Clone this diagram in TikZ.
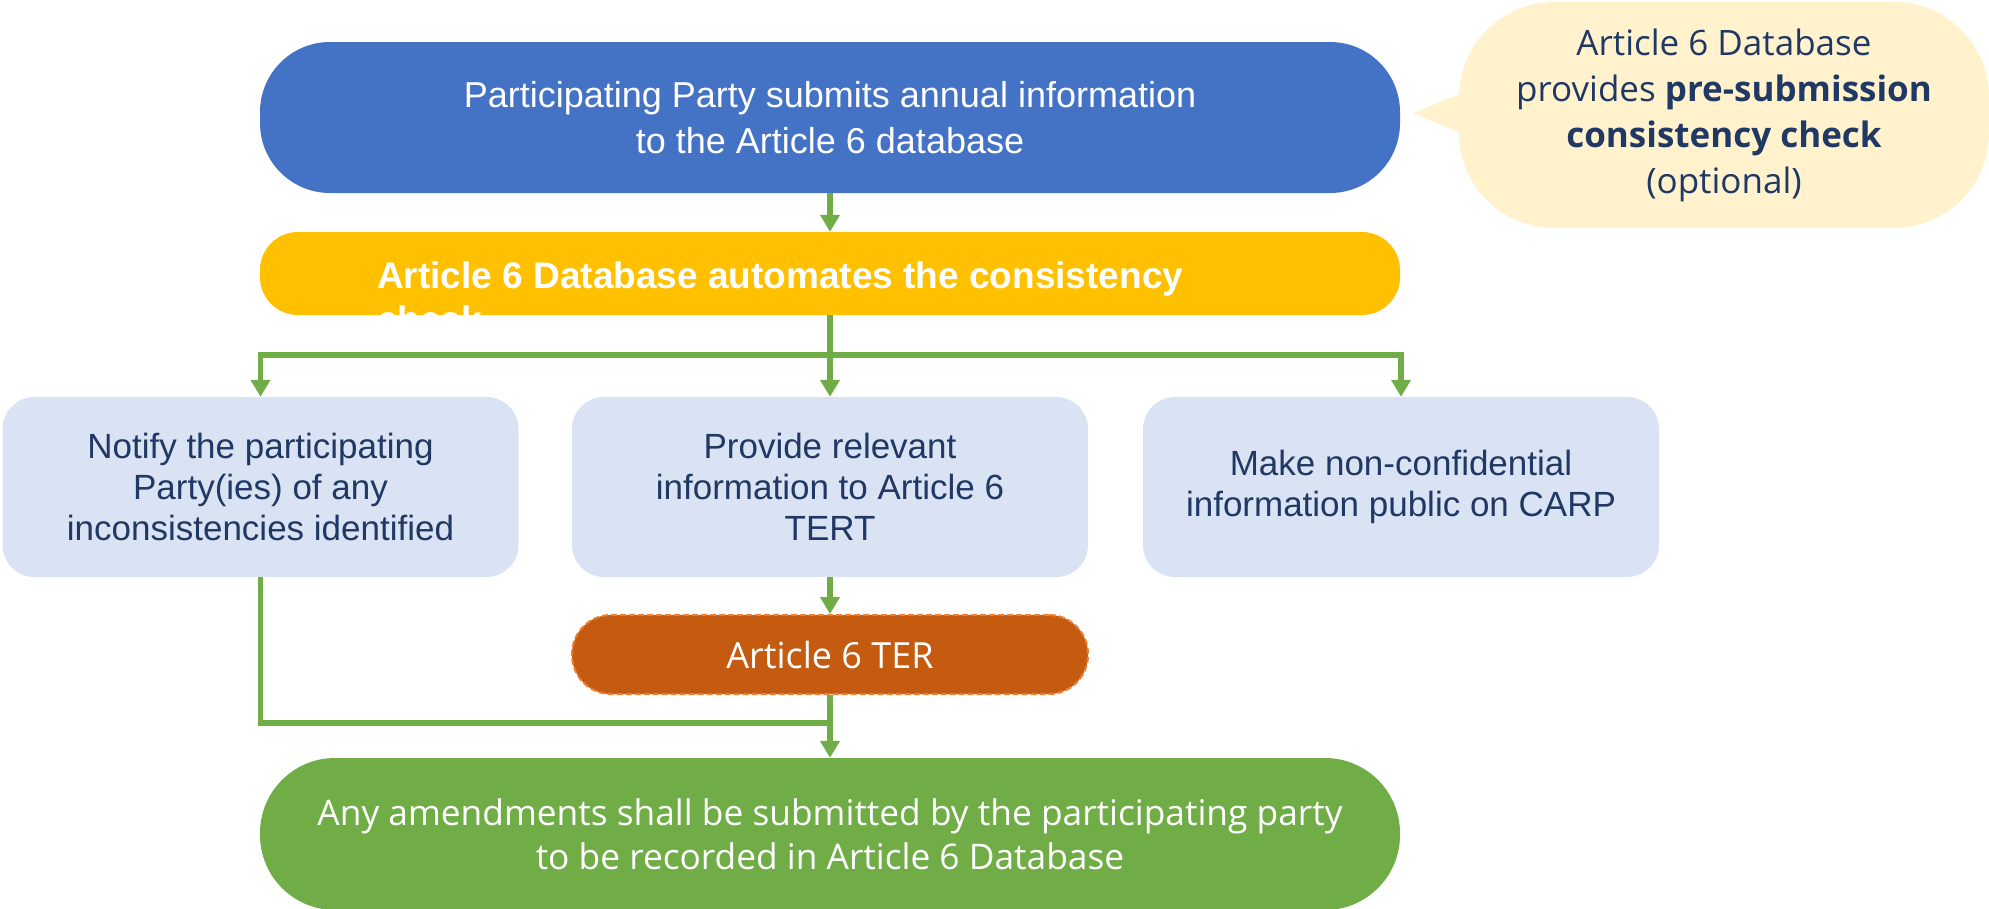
\documentclass[tikz,border=0pt]{standalone}
\usepackage{fontspec}
\setmainfont{Liberation Sans}
\newfontfamily\segoe{Open Sans}
\usetikzlibrary{arrows.meta}
\definecolor{cblue}{HTML}{4472C4}
\definecolor{cyellow}{HTML}{FFC000}
\definecolor{clight}{HTML}{DAE3F3}
\definecolor{cnavy}{HTML}{1F3864}
\definecolor{cgreen}{HTML}{70AD47}
\definecolor{corange}{HTML}{C55A11}
\definecolor{corangeb}{HTML}{ED7D31}
\definecolor{cbubble}{HTML}{FFF2CC}
\begin{document}
\begin{tikzpicture}[x=1pt,y=-1pt,
  widebox/.style={rectangle, inner sep=0pt, minimum width=1140, align=center},
  lbox/.style={rectangle, inner sep=0pt, minimum width=516, minimum height=180,
    rounded corners=32, fill=clight, text=cnavy, align=center,
    font=\fontsize{35}{41}\selectfont},
  conn/.style={draw=cgreen, line width=5.5},
  arr/.style={-{Triangle[width=19pt,length=17pt]}}]
\useasboundingbox (0,0) rectangle (1989,908);

% speech bubble
\fill[cbubble] (1470,90) -- (1413,113) -- (1470,137) -- cycle;
\node[rectangle, inner sep=0pt, minimum width=530, minimum height=226,
  rounded corners=95, fill=cbubble, text=cnavy, align=center,
  font=\segoe\fontsize{35}{46}\selectfont] (bubble) at (1724,115)
  {Article 6 Database\\provides \textbf{pre-submission}\\\textbf{consistency check}\\(optional)};

% main boxes
\node[widebox, minimum height=151, rounded corners=70, fill=cblue, text=white,
  font=\fontsize{36}{46}\selectfont] (top) at (830,117.5)
  {Participating Party submits annual information\\to the Article 6 database};

\node[widebox, minimum height=83, rounded corners=38, fill=cyellow] (auto) at (830,273.5) {};
\node[anchor=north west, inner sep=0pt, align=left, text=white,
  font=\bfseries\fontsize{37}{44}\selectfont] (autotext) at (377,261.5)
  {Article 6 Database automates the consistency\\check};

\node[lbox] (b1) at (260.5,487) {Notify the participating\\Party(ies) of any\\inconsistencies identified};
\node[lbox] (b2) at (830,487) {Provide relevant\\information to Article 6\\TERT};
\node[lbox] (b3) at (1401,487) {Make non-confidential\\information public on CARP};

\node[rectangle, inner sep=0pt, minimum width=516, minimum height=79,
  rounded corners=39, fill=corange, draw=corangeb, line width=2,
  dash pattern=on 6pt off 3pt, text=white,
  font=\segoe\fontsize{36}{44}\selectfont] (ter) at (830,654.5) {Article 6 TER};

\node[widebox, minimum height=152, rounded corners=75, fill=cgreen, text=white,
  font=\segoe\fontsize{35.3}{44}\selectfont] (bottom) at (830,834)
  {Any amendments shall be submitted by the participating party\\to be recorded in Article 6 Database};

% connectors
\coordinate (split) at (830,355);
\coordinate (join) at (830,723);
\draw[conn, arr] (top.south) -- (auto.north);
\draw[conn] (auto.south) -- (split);
\draw[conn, arr] (split) -| (b1.north);
\draw[conn, arr] (split) -| (b3.north);
\draw[conn, arr] (split) -- (b2.north);
\draw[conn, arr] (b2.south) -- (ter.north);
\draw[conn] (b1.south) |- (join);
\draw[conn, arr] (ter.south) -- (bottom.north);
\end{tikzpicture}
\end{document}
